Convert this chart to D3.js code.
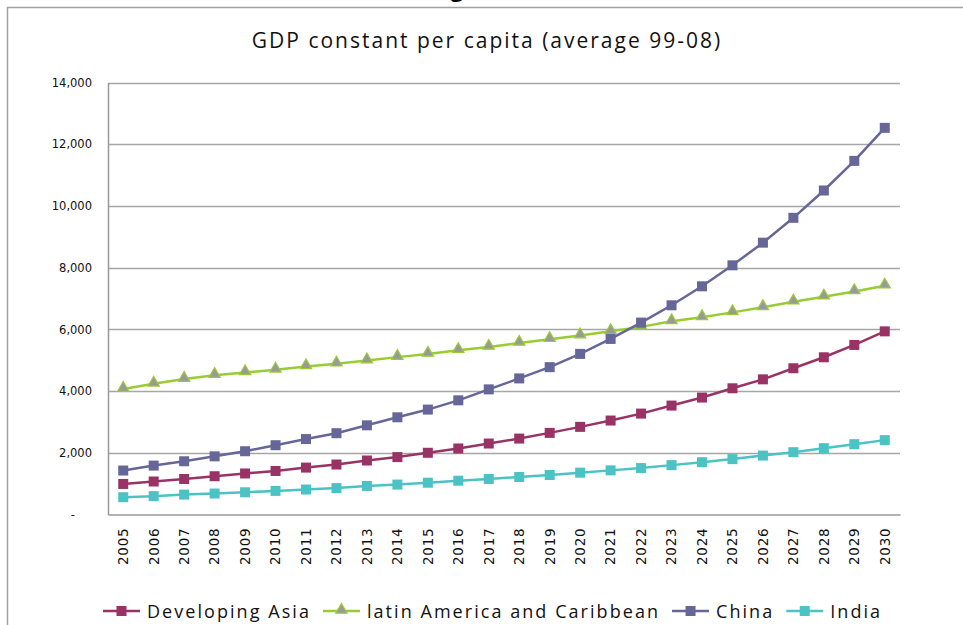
<!DOCTYPE html>
<html>
<head>
<meta charset="utf-8">
<script src="https://cdn.jsdelivr.net/npm/d3@7"></script>
<style>
  body { margin: 0; background: #fff; }
  svg { display: block; }
</style>
</head>
<body>
<div id="chart"></div>
<script>
// GDP constant per capita
var years = d3.range(2005, 2031);
var devAsia = [990, 1070, 1150, 1240, 1330, 1410, 1520, 1620, 1750, 1860, 2000, 2140, 2300,
               2460, 2645, 2840, 3045, 3270, 3530, 3790, 4090, 4380, 4740, 5095, 5495, 5935];
var latinAm = [4065, 4235, 4390, 4515, 4605, 4690, 4800, 4885, 4990, 5100, 5205, 5325, 5430,
               5560, 5680, 5800, 5935, 6080, 6260, 6390, 6550, 6715, 6895, 7060, 7230, 7415];
var china   = [1425, 1585, 1725, 1885, 2050, 2245, 2445, 2635, 2890, 3150, 3400, 3700, 4055,
               4410, 4775, 5205, 5690, 6220, 6780, 7395, 8075, 8810, 9615, 10500, 11460, 12530];
var india   = [560, 595, 645, 680, 720, 765, 810, 855, 925, 970, 1030, 1095, 1150,
               1215, 1280, 1355, 1430, 1505, 1600, 1695, 1795, 1910, 2020, 2150, 2280, 2410];
var yTicks = [0, 2000, 4000, 6000, 8000, 10000, 12000, 14000];

var series = [
  { name: "Developing Asia", values: devAsia, color: "#993366", shape: "square" },
  { name: "latin America and Caribbean", values: latinAm, color: "#99cc33", shape: "triangle" },
  { name: "China", values: china, color: "#666699", shape: "square" },
  { name: "India", values: india, color: "#4bc3c4", shape: "square" }
];

var W = 963, H = 625;
var svg = d3.select("#chart").append("svg").attr("width", W).attr("height", H);

// cut-off heading above the chart frame
svg.append("text")
  .attr("x", 457).attr("y", -3)
  .attr("text-anchor", "middle")
  .style("font-family", "Open Sans").style("font-weight", "bold").style("font-size", "22px")
  .text("g");

// chart frame
svg.append("path")
  .attr("d", "M7.5," + H + "V7.5H" + W)
  .attr("fill", "none").attr("stroke", "#a0a0a0").attr("stroke-width", 1.5);

// title
svg.append("text")
  .attr("x", 487).attr("y", 48)
  .attr("text-anchor", "middle")
  .style("font-family", "Open Sans").style("font-size", "21px")
  .style("letter-spacing", "2px").style("fill", "#111")
  .text("GDP constant per capita (average 99-08)");

var plotLeft = 108, plotRight = 900, plotTop = 82.5, plotBottom = 514.5;
var x = d3.scaleBand().domain(years).range([plotLeft, plotRight]);
var y = d3.scaleLinear().domain([0, 14000]).range([plotBottom, plotTop]);
var cx = function (yr) { return x(yr) + x.bandwidth() / 2; };

// gridlines
svg.append("g").selectAll("line").data(yTicks.filter(function (d) { return d > 0; }))
  .enter().append("line")
  .attr("x1", plotLeft).attr("x2", plotRight)
  .attr("y1", function (d) { return Math.round(y(d)) + 0.5; })
  .attr("y2", function (d) { return Math.round(y(d)) + 0.5; })
  .attr("stroke", "#a6a6a6").attr("stroke-width", 1.3);

// y axis
var yAxis = svg.append("g").attr("transform", "translate(" + plotLeft + ",0)")
  .call(d3.axisLeft(y).tickValues(yTicks).tickSize(0).tickPadding(16)
    .tickFormat(function (d) { return d === 0 ? "-" : d3.format(",")(d); }));
yAxis.select(".domain").attr("stroke", "#999").attr("stroke-width", 1.5);
yAxis.selectAll("text")
  .style("font-family", "DejaVu Sans").style("font-size", "11.5px").style("fill", "#111")
  .attr("dx", function (d) { return d === 0 ? -17 : 0; });

// x axis
var xAxis = svg.append("g").attr("transform", "translate(0," + plotBottom + ")")
  .call(d3.axisBottom(x).tickSize(0).tickPadding(0));
xAxis.select(".domain").attr("stroke", "#999").attr("stroke-width", 1.5);
xAxis.selectAll("text")
  .style("font-family", "DejaVu Sans").style("font-size", "13.5px").style("fill", "#111")
  .style("letter-spacing", "0.8px")
  .attr("text-anchor", "end")
  .attr("transform", "rotate(-90)")
  .attr("x", -13).attr("y", 0).attr("dy", "0.36em");

var tri = d3.symbol().type(d3.symbolTriangle).size(55);

function marker(g, s, px, py) {
  if (s.shape === "square") {
    g.append("rect").attr("x", px - 5).attr("y", py - 5).attr("width", 10).attr("height", 10)
      .attr("fill", s.color);
  } else {
    g.append("path").attr("d", tri).attr("transform", "translate(" + px + "," + (py - 1) + ")")
      .attr("fill", "#999").attr("stroke", s.color).attr("stroke-width", 1.2);
  }
}

var line = d3.line()
  .x(function (d, i) { return cx(years[i]); })
  .y(function (d) { return y(d); });

series.forEach(function (s) {
  var g = svg.append("g");
  g.append("path").datum(s.values).attr("d", line)
    .attr("fill", "none").attr("stroke", s.color).attr("stroke-width", 2.5);
  s.values.forEach(function (v, i) { marker(g, s, cx(years[i]), y(v)); });
});

// legend
var lg = svg.append("g");
var lx = 103, ly = 611;
series.forEach(function (s) {
  var g = lg.append("g");
  g.append("line").attr("x1", lx).attr("x2", lx + 37).attr("y1", ly).attr("y2", ly)
    .attr("stroke", s.color).attr("stroke-width", 2.5);
  marker(g, s, lx + 18.5, ly);
  var t = g.append("text").attr("x", lx + 44).attr("y", ly + 6.5)
    .style("font-family", "Open Sans").style("font-size", "18px")
    .style("letter-spacing", "2.05px").style("fill", "#111")
    .text(s.name);
  lx += 44 + t.node().getComputedTextLength() + 12;
});
</script>
</body>
</html>
